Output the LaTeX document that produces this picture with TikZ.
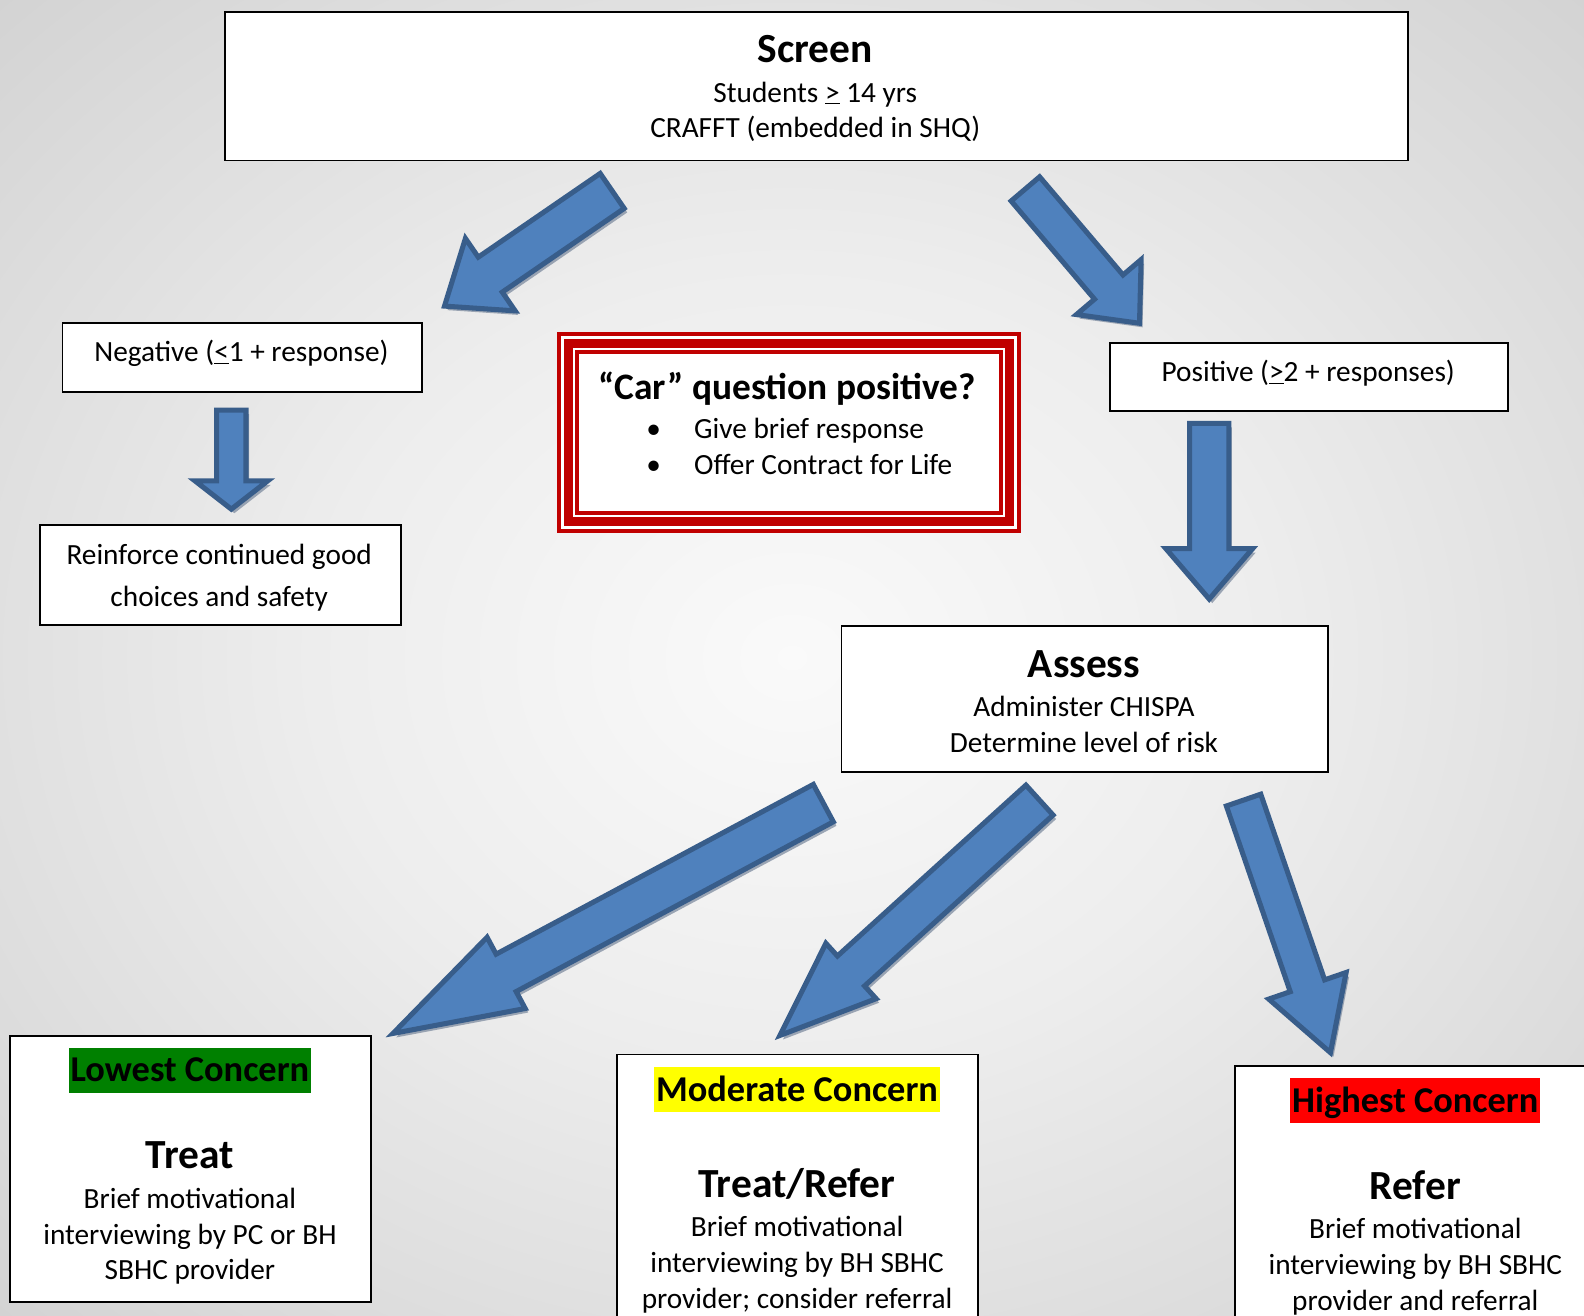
\documentclass[tikz,border=0pt]{standalone}
\usepackage{fontspec}
\setmainfont{Carlito}
\usetikzlibrary{calc}
\definecolor{bgc0}{gray}{0.98}
\definecolor{bgc1}{gray}{0.93}
\definecolor{bgc2}{gray}{0.83}
\definecolor{bgc3}{gray}{0.72}
\definecolor{bgc4}{gray}{0.61}
\definecolor{arrfill}{HTML}{4F81BD}
\definecolor{arrborder}{HTML}{385D8A}
\definecolor{arrshadowc}{HTML}{7E8CA0}
\definecolor{carred}{HTML}{C00000}
\definecolor{lowgreen}{HTML}{008000}
\definecolor{modyellow}{HTML}{FFFF00}
\definecolor{highred}{HTML}{FF0000}
\pgfdeclareradialshading{bgshade}{\pgfpoint{0bp}{0bp}}{color(0bp)=(bgc0); color(15bp)=(bgc1); color(35bp)=(bgc2); color(50bp)=(bgc3); color(72bp)=(bgc4)}

\newcommand\blockarrow[5]{%
  \path let \p1=(#1), \p2=(#2) in \pgfextra{%
    \pgfmathsetmacro\bang{atan2(\y2-\y1,\x2-\x1)}%
    \pgfmathsetmacro\blen{veclen(\x2-\x1,\y2-\y1)}%
    \global\let\barang\bang \global\let\barlen\blen
    \xdef\barx{\x1}\xdef\bary{\y1}};
  \def\barshape{(0,-#3/2) -- ({\barlen-#5},-#3/2) -- ({\barlen-#5},-#4/2) -- (\barlen,0) -- ({\barlen-#5},#4/2) -- ({\barlen-#5},#3/2) -- (0,#3/2) -- cycle}%
  \fill[arrshadowc, opacity=0.75, shift={(3pt,-4pt)}, shift={(\barx,\bary)}, rotate=\barang, x=1pt, y=1pt] \barshape;
  \filldraw[fill=arrfill, draw=arrborder, line width=5pt, line join=miter, shift={(\barx,\bary)}, rotate=\barang, x=1pt, y=1pt] \barshape;
}

\begin{document}
\begin{tikzpicture}[x=1pt,y=-1pt,
  box/.style={draw=black, line width=1.8pt, fill=white, inner sep=0pt, anchor=north west},
  body/.style={font=\fontsize{29}{35}\selectfont, inner sep=0pt, anchor=base},
  head/.style={font=\bfseries\fontsize{41}{49}\selectfont, inner sep=0pt, anchor=base},
  concern/.style={font=\bfseries\fontsize{36}{43}\selectfont, inner xsep=2pt, inner ysep=0pt, text height=34pt, text depth=11pt, anchor=base},
  carline/.style={draw=carred}]
\useasboundingbox (0,0) rectangle (1568,1302);
\clip (0,0) rectangle (1568,1302);
\shade[shading=bgshade] (0,0) rectangle (1568,1302);

% boxes
\node[box, minimum width=1171pt, minimum height=147pt] (screen) at (222,11) {};
\node[box, minimum width=356pt, minimum height=68pt] (neg) at (61,319) {};
\node[box, minimum width=357pt, minimum height=99pt] (reinf) at (39,519) {};
\node[box, minimum width=394pt, minimum height=67pt] (pos) at (1098,339) {};
\node[box, minimum width=482pt, minimum height=144pt] (assess) at (832,619) {};
\node[box, minimum width=357pt, minimum height=263pt] (lowest) at (9,1025) {};
\node[box, minimum width=357pt, minimum height=300pt] (moderate) at (610,1043) {};
\node[box, minimum width=357pt, minimum height=300pt] (highest) at (1222,1054) {};

% car box
\node[fill=white, inner sep=0pt, minimum width=458.5pt, minimum height=198pt, anchor=north west] (car) at (551.5,329) {};
\draw[carline, line width=3.3pt] ($(car.north west)+(1.7,1.7)$) rectangle ($(car.south east)+(-1.7,-1.7)$);
\draw[carline, line width=8.6pt] ($(car.north west)+(11,11)$) rectangle ($(car.south east)+(-11,-11)$);
\draw[carline, line width=3.6pt] ($(car.north west)+(19.4,19.4)$) rectangle ($(car.south east)+(-19.4,-19.4)$);

% texts
\node[head] (tscreen) at (807,62) {Screen};
\node[body] (tstud) at (807,101) {Students \underline{>} 14 yrs};
\node[body] (tcrafft) at (807,136) {CRAFFT (embedded in SHQ)};

\node[body] (tneg) at (239,358) {Negative (\underline{<}1 + response)};
\node[body] (treinf1) at (217,559) {Reinforce continued good};
\node[body] (treinf2) at (217,600) {choices and safety};
\node[body] (tpos) at (1295,378) {Positive (\underline{>}2 + responses)};

\node[font=\bfseries\fontsize{37}{44}\selectfont, inner sep=0pt, anchor=base] (tcar) at (779,395) {“Car” question positive?};
\node[body] (b1) at (647,434) {•};
\node[body] (b2) at (647,470) {•};
\node[body, anchor=base west] (tcar1) at (687,434) {Give brief response};
\node[body, anchor=base west] (tcar2) at (687,470) {Offer Contract for Life};

\node[head] (tassess) at (1073,671) {Assess};
\node[body] (tass1) at (1073,709) {Administer CHISPA};
\node[body] (tass2) at (1073,745) {Determine level of risk};

\node[concern, fill=lowgreen] (clow) at (188,1071) {Lowest Concern};
\node[head] (ttreat) at (188,1157) {Treat};
\node[body] (tl1) at (188,1196) {Brief motivational};
\node[body] (tl2) at (188,1232) {interviewing by PC or BH};
\node[body] (tl3) at (188,1267) {SBHC provider};

\node[concern, fill=modyellow] (cmod) at (789,1090) {Moderate Concern};
\node[head] (ttr) at (789,1185) {Treat/Refer};
\node[body] (tm1) at (789,1224) {Brief motivational};
\node[body] (tm2) at (789,1260) {interviewing by BH SBHC};
\node[body] (tm3) at (789,1295) {provider; consider referral};

\node[concern, fill=highred] (chigh) at (1401,1101) {Highest Concern};
\node[head] (trefer) at (1401,1187) {Refer};
\node[body] (th1) at (1401,1226) {Brief motivational};
\node[body] (th2) at (1401,1262) {interviewing by BH SBHC};
\node[body] (th3) at (1401,1297) {provider and referral};

% arrows
\coordinate (a1s) at (606,189); \coordinate (a1e) at (440,303);
\coordinate (a2s) at (1015,187); \coordinate (a2e) at (1128,320);
\coordinate (a3s) at (229,406); \coordinate (a3e) at (229,504);
\coordinate (a4s) at (1197,419); \coordinate (a4e) at (1197,593);
\coordinate (a5s) at (815,795); \coordinate (a5e) at (389,1023);
\coordinate (a6s) at (1029,792); \coordinate (a6e) at (772,1025);
\coordinate (a7s) at (1231,792); \coordinate (a7e) at (1317,1042);
\blockarrow{a1s}{a1e}{42}{87}{55}
\blockarrow{a2s}{a2e}{37}{84}{47}
\blockarrow{a3s}{a3e}{29}{72}{28}
\blockarrow{a4s}{a4e}{39}{86}{50}
\blockarrow{a5s}{a5e}{42}{80}{127}
\blockarrow{a6s}{a6e}{40}{74}{95}
\blockarrow{a7s}{a7e}{36}{81}{70}
\end{tikzpicture}
\end{document}
